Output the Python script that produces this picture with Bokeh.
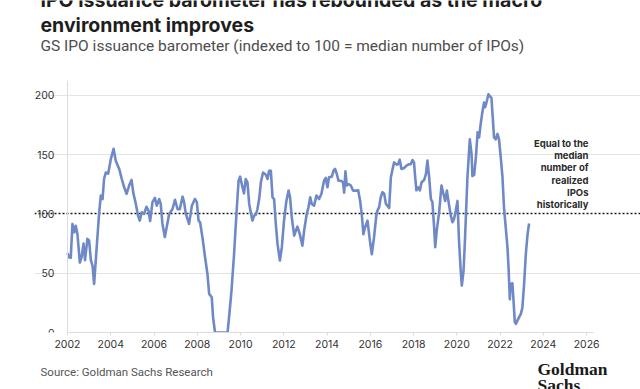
from bokeh.plotting import figure
from bokeh.layouts import column
from bokeh.models import ColumnDataSource, Label, FixedTicker, Range1d, Grid
from bokeh.embed import file_html
from bokeh.resources import INLINE

# ---- data ----
dates = [
    2002.00, 2002.07, 2002.15, 2002.23, 2002.31, 2002.38, 2002.46, 2002.57, 2002.65, 2002.74,
    2002.81, 2002.92, 2003.00, 2003.08, 2003.16, 2003.23, 2003.35, 2003.46, 2003.54, 2003.62,
    2003.69, 2003.77, 2003.88, 2004.00, 2004.13, 2004.23, 2004.39, 2004.51, 2004.62, 2004.73,
    2004.85, 2004.96, 2005.05, 2005.16, 2005.26, 2005.34, 2005.43, 2005.54, 2005.65, 2005.74,
    2005.82, 2005.93, 2006.04, 2006.13, 2006.24, 2006.31, 2006.39, 2006.50, 2006.70, 2006.85,
    2006.97, 2007.09, 2007.19, 2007.32, 2007.39, 2007.47, 2007.62, 2007.75, 2007.89, 2007.98,
    2008.06, 2008.13, 2008.24, 2008.36, 2008.47, 2008.55, 2008.67, 2008.73, 2008.82, 2009.40,
    2009.47, 2009.58, 2009.70, 2009.81, 2009.91, 2009.98, 2010.09, 2010.16, 2010.24, 2010.32,
    2010.40, 2010.47, 2010.55, 2010.63, 2010.71, 2010.78, 2010.86, 2010.94, 2011.04, 2011.17,
    2011.25, 2011.32, 2011.40, 2011.48, 2011.55, 2011.63, 2011.71, 2011.82, 2011.91, 2012.01,
    2012.12, 2012.22, 2012.29, 2012.37, 2012.48, 2012.56, 2012.63, 2012.74, 2012.86, 2012.94,
    2013.06, 2013.14, 2013.22, 2013.29, 2013.40, 2013.51, 2013.63, 2013.74, 2013.86, 2013.94,
    2014.02, 2014.09, 2014.22, 2014.30, 2014.37, 2014.45, 2014.53, 2014.64, 2014.74, 2014.79,
    2014.85, 2014.91, 2014.99, 2015.10, 2015.20, 2015.33, 2015.44, 2015.53, 2015.61, 2015.68,
    2015.76, 2015.87, 2015.98, 2016.07, 2016.17, 2016.28, 2016.33, 2016.41, 2016.48, 2016.56,
    2016.64, 2016.72, 2016.79, 2016.87, 2016.95, 2017.03, 2017.10, 2017.21, 2017.28, 2017.36,
    2017.44, 2017.56, 2017.67, 2017.79, 2017.87, 2017.95, 2018.02, 2018.07, 2018.13, 2018.21,
    2018.29, 2018.37, 2018.49, 2018.57, 2018.64, 2018.72, 2018.80, 2018.87, 2018.95, 2019.00,
    2019.07, 2019.18, 2019.29, 2019.38, 2019.46, 2019.54, 2019.61, 2019.72, 2019.80, 2019.87,
    2019.95, 2020.03, 2020.10, 2020.18, 2020.23, 2020.31, 2020.38, 2020.49, 2020.60, 2020.68,
    2020.72, 2020.80, 2020.88, 2020.96, 2021.03, 2021.11, 2021.19, 2021.26, 2021.31, 2021.39,
    2021.46, 2021.54, 2021.60, 2021.66, 2021.72, 2021.80, 2021.88, 2021.95, 2022.03, 2022.11,
    2022.18, 2022.26, 2022.34, 2022.39, 2022.45, 2022.49, 2022.57, 2022.62, 2022.68, 2022.73,
    2022.80, 2022.88, 2022.96, 2023.03, 2023.11, 2023.19, 2023.27, 2023.34,
]
barometer = [
    67, 63.5, 63, 91.6, 84.5, 90, 83, 59, 63.5, 75,
    61, 79, 77.5, 61, 56, 41, 72, 100, 115.5, 112.6,
    129.5, 135, 134, 146, 155, 145, 138, 129.5, 122.5, 117,
    124, 128.7, 117, 108.5, 98.6, 94.4, 101.4, 100, 106, 103,
    94, 110, 113.5, 107, 112.6, 108.5, 91.6, 80.5, 100, 104,
    112, 104, 104, 114.6, 110, 100, 91.6, 107, 112.6, 110,
    94.4, 93, 80, 63.5, 49.4, 32.6, 29.7, 13, 0, 0,
    13, 35, 66, 100, 128, 131.5, 122.5, 117.4, 129.5, 126.7,
    108.5, 101.4, 94.4, 98.6, 99.4, 104, 112.6, 126.7, 135, 133,
    129.5, 136.5, 136.5, 114, 112.6, 91.6, 74.7, 60.7, 72, 94.4,
    111, 119.7, 114, 97, 81.7, 86, 89.3, 83, 73.3, 86,
    100, 105.6, 114, 108.5, 107, 115.5, 112.6, 117, 128, 130.4,
    122.5, 131, 131.5, 136.5, 138, 133.7, 128, 128, 126.7, 118,
    136, 124, 125.3, 124, 119.7, 119.7, 120, 111, 98.6, 83,
    88.8, 94.4, 77.5, 66, 80, 99, 102.8, 106, 114, 118.3,
    117, 108.5, 107, 105, 131, 138, 143.5, 141.6, 142, 145.8,
    138, 138.8, 140.7, 142, 142, 145.5, 143.5, 132, 120, 122.5,
    120, 126.7, 128.7, 133.7, 145, 131, 112.6, 110, 88.8, 72,
    86, 101.4, 124, 117, 111, 119.7, 111, 98.6, 93, 95.8,
    102.8, 111, 77.5, 52, 39.6, 52, 80, 131, 163, 150.6,
    132, 133, 147.8, 168.8, 164.6, 177, 187, 194, 190, 195.5,
    201, 199, 198, 181.5, 164.6, 163, 167.5, 163, 147.8, 131,
    105.6, 88.8, 72, 55, 28, 41, 41.5, 27, 8.7, 7.3,
    10, 13, 15.7, 21, 41, 66.3, 83, 92,
]
y_ticks = [0, 50, 100, 150, 200]
grid_ticks = [0, 50, 150, 200]
x_ticks = [2002, 2004, 2006, 2008, 2010, 2012, 2014, 2016, 2018, 2020, 2022, 2024, 2026]
median_level = [100]
x_first, x_last = 2002, 2026.33
y_top = 212.6

title_lines = ["IPO issuance barometer has rebounded as the macro", "environment improves"]
subtitle = "GS IPO issuance barometer (indexed to 100 = median number of IPOs)"
note_lines = ["Equal to the", "median", "number of", "realized", "IPOs", "historically"]
source_text = "Source: Goldman Sachs Research"
logo_lines = ["Goldman", "Sachs"]

W = 640
LEFT = 34          # left border of every frame (the y axis is pinned at 2002 inside it)
PX_PER_YEAR = 21.63


def blank(height):
    f = figure(width=W, height=height, output_backend="svg", toolbar_location=None,
               x_range=Range1d(0, W), y_range=Range1d(0, height),
               x_axis_type=None, y_axis_type=None,
               min_border_left=0, min_border_right=0, min_border_top=0, min_border_bottom=0,
               background_fill_color="white", border_fill_color="white")
    f.outline_line_color = None
    f.grid.visible = False
    return f


def lbl(fig, x_page, y_from_bottom, text, **kw):
    fig.add_layout(Label(x=x_page - LEFT, y=y_from_bottom, x_units="screen", y_units="screen",
                         text=text, text_baseline="alphabetic", **kw))


# ---- header (page y 0..80) ----
head = blank(80)
lbl(head, 40, 81, title_lines[0], text_font="Inter", text_font_style="bold",
    text_font_size="19.5px", text_color="#1e1e1e")
lbl(head, 40, 56, title_lines[1], text_font="Inter", text_font_style="bold",
    text_font_size="19.5px", text_color="#1e1e1e")
lbl(head, 40, 34.5, subtitle, text_font="Roboto", text_font_size="15.5px",
    text_color="#4d4d4d")

# ---- main chart (page y 80..356, frame 80..332) ----
src = ColumnDataSource(data=dict(date=dates, value=barometer))

x_start = x_first - (67 - LEFT) / PX_PER_YEAR
x_end = x_start + (W - LEFT) / PX_PER_YEAR

p = figure(width=W, height=276, output_backend="svg", toolbar_location=None,
           x_range=Range1d(x_start, x_end), y_range=Range1d(0, y_top),
           min_border_left=LEFT, min_border_right=0, min_border_top=0, min_border_bottom=24,
           background_fill_color="white", border_fill_color="white")
p.outline_line_color = None

p.xgrid.visible = False
p.ygrid.ticker = FixedTicker(ticks=grid_ticks)
p.ygrid.grid_line_color = "#e4e4e4"
p.ygrid.bounds = (x_first, x_last)

p.add_layout(Grid(dimension=1, ticker=FixedTicker(ticks=median_level), bounds=(x_first, x_last),
                  grid_line_color="#1a1a1a", grid_line_dash="2 2", grid_line_width=1.3))

p.yaxis.ticker = FixedTicker(ticks=y_ticks)
p.yaxis.fixed_location = x_first
p.yaxis.bounds = (0, y_top)
p.yaxis.axis_line_color = "#dcdcdc"
p.yaxis.major_tick_line_color = None
p.yaxis.minor_tick_line_color = None
p.yaxis.major_label_standoff = 7
p.yaxis.major_label_text_font = "Inter"
p.yaxis.major_label_text_font_size = "10.5px"
p.yaxis.major_label_text_color = "#333333"

p.xaxis.ticker = FixedTicker(ticks=x_ticks)
p.xaxis.bounds = (x_first, x_last)
p.xaxis.axis_line_color = "#dcdcdc"
p.xaxis.major_tick_line_color = "#dcdcdc"
p.xaxis.major_tick_out = 3
p.xaxis.major_tick_in = 0
p.xaxis.minor_tick_line_color = None
p.xaxis.major_label_standoff = 4
p.xaxis.major_label_text_font = "Inter"
p.xaxis.major_label_text_font_size = "10.5px"
p.xaxis.major_label_text_color = "#333333"

p.line("date", "value", source=src, line_color="#6f89c7", line_width=2.6, line_join="round")

note_base = [142.5, 155, 167.2, 179.5, 192, 204.2]   # page y of each baseline
for t, yy in zip(note_lines, note_base):
    p.add_layout(Label(x=588 - LEFT, y=332 - yy, x_units="screen", y_units="screen", text=t,
                       text_font="Inter", text_font_style="bold", text_font_size="9.5px",
                       text_color="#2a2a2a", text_align="right", text_baseline="alphabetic"))

# ---- footer (page y 356..389) ----
foot = blank(33)
lbl(foot, 40, 18, source_text, text_font="Roboto", text_font_size="11.5px",
    text_color="#555555")
lbl(foot, 537, 20.5, logo_lines[0], text_font="Liberation Serif", text_font_style="bold",
    text_font_size="17.5px", text_color="#1a1a1a")
lbl(foot, 537, 5, logo_lines[1], text_font="Liberation Serif", text_font_style="bold",
    text_font_size="17.5px", text_color="#1a1a1a")

layout = column(head, p, foot, spacing=0)
open("out.html", "w").write(file_html(layout, INLINE))
